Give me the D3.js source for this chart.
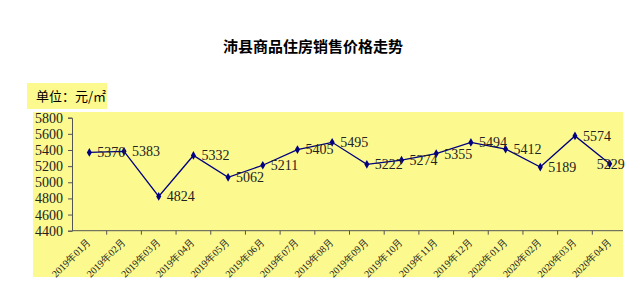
<!DOCTYPE html>
<html>
<head>
<meta charset="utf-8">
<script src="https://cdn.jsdelivr.net/npm/d3@7"></script>
<style>
  body { margin: 0; background: #fff; }
  svg { display: block; }
</style>
</head>
<body>
<div id="chart"></div>
<script>
// data
var months = ["2019年01月", "2019年02月", "2019年03月", "2019年04月", "2019年05月", "2019年06月",
  "2019年07月", "2019年08月", "2019年09月", "2019年10月", "2019年11月", "2019年12月",
  "2020年01月", "2020年02月", "2020年03月", "2020年04月"];
var prices = [5370, 5383, 4824, 5332, 5062, 5211, 5405, 5495, 5222, 5274, 5355, 5494, 5412, 5189, 5574, 5229];
var yTicks = [4400, 4600, 4800, 5000, 5200, 5400, 5600, 5800];

var width = 640, height = 297;
var serif = "'Liberation Serif', 'Times New Roman', serif";
var cjk = "'Noto Sans CJK SC', sans-serif";

var svg = d3.select('#chart').append('svg')
    .attr('width', width)
    .attr('height', height);

// plot background
svg.append('rect')
    .attr('x', 33).attr('y', 112)
    .attr('width', 590).attr('height', 165)
    .attr('fill', '#fcf98e');

// unit box
svg.append('rect')
    .attr('x', 27).attr('y', 83)
    .attr('width', 80).attr('height', 26)
    .attr('fill', '#fcf98e');
svg.append('text')
    .attr('x', 36).attr('y', 96)
    .attr('dy', '0.35em')
    .attr('font-family', cjk)
    .attr('font-size', 13)
    .text('单位：元/㎡');

// title
svg.append('text')
    .attr('x', 313).attr('y', 47)
    .attr('dy', '0.35em')
    .attr('text-anchor', 'middle')
    .attr('font-family', cjk)
    .attr('font-weight', 'bold')
    .attr('font-size', 15)
    .text('沛县商品住房销售价格走势');

var x = d3.scaleBand().domain(months).range([72, 627]);
var y = d3.scaleLinear().domain([4400, 5800]).range([230.7, 117.7]);

// y axis
var yAxis = svg.append('g')
    .attr('transform', 'translate(72,0)')
    .call(d3.axisLeft(y).tickValues(yTicks).tickSize(4).tickFormat(d3.format('d')));
yAxis.select('.domain').attr('stroke', '#555');
yAxis.selectAll('.tick line').attr('stroke', '#555');
yAxis.selectAll('text')
    .attr('x', -9)
    .attr('font-family', serif)
    .attr('font-size', 14)
    .attr('fill', '#222');

// x axis, ticks on category boundaries
var xAxis = svg.append('g')
    .attr('transform', 'translate(0,230.7)');
xAxis.append('line')
    .attr('x1', 72).attr('x2', 623)
    .attr('stroke', '#555');
xAxis.selectAll('.tk')
    .data(months.slice(1))
    .enter().append('line')
    .attr('class', 'tk')
    .attr('x1', function(d) { return x(d); })
    .attr('x2', function(d) { return x(d); })
    .attr('y1', 0).attr('y2', 4)
    .attr('stroke', '#555');
xAxis.selectAll('.lbl')
    .data(months)
    .enter().append('text')
    .attr('class', 'lbl')
    .attr('transform', function(d) {
      return 'translate(' + (x(d) + x.bandwidth() / 2 + 2) + ',12) rotate(-45)';
    })
    .attr('text-anchor', 'end')
    .attr('font-family', serif)
    .attr('font-size', 10)
    .attr('fill', '#222')
    .text(function(d) { return d; });

// line
var cx = function(i) { return x(months[i]) + x.bandwidth() / 2; };
var line = d3.line()
    .x(function(d, i) { return cx(i); })
    .y(function(d) { return y(d); });

svg.append('path')
    .datum(prices)
    .attr('d', line)
    .attr('fill', 'none')
    .attr('stroke', '#000080')
    .attr('stroke-width', 1.3);

svg.selectAll('.mk')
    .data(prices)
    .enter().append('path')
    .attr('class', 'mk')
    .attr('d', d3.symbol().type(d3.symbolDiamond).size(22))
    .attr('transform', function(d, i) {
      return 'translate(' + cx(i) + ',' + y(d) + ')';
    })
    .attr('fill', '#000080');

// value labels, last one sits over its point so it stays inside
var last = prices.length - 1;
svg.selectAll('.val')
    .data(prices)
    .enter().append('text')
    .attr('class', 'val')
    .attr('x', function(d, i) { return i == last ? cx(i) - 13 : cx(i) + 8; })
    .attr('y', function(d) { return y(d); })
    .attr('dy', '0.35em')
    .attr('font-family', serif)
    .attr('font-size', 14)
    .attr('fill', '#222')
    .text(function(d) { return d; });
</script>
</body>
</html>
